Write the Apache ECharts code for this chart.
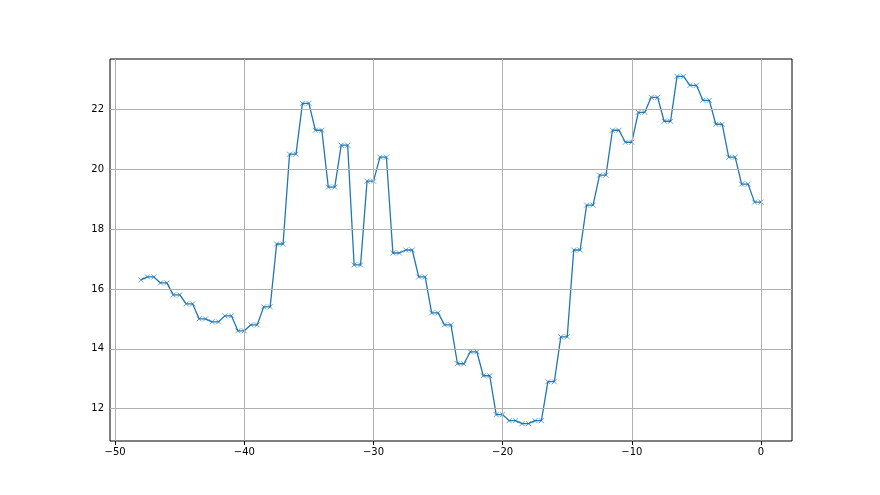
<!DOCTYPE html>
<html>
<head>
<meta charset="utf-8">
<script src="https://cdn.jsdelivr.net/npm/echarts@6/dist/echarts.min.js"></script>
<style>
  html, body { margin: 0; padding: 0; background: #fff; }
  #chart { width: 880px; height: 495px; }
</style>
</head>
<body>
<div id="chart"></div>
<script>
// one value per whole step; each is held for half a unit
const stepX = [-48, -47, -46, -45, -44, -43, -42, -41, -40, -39, -38, -37, -36, -35, -34, -33, -32,
  -31, -30, -29, -28, -27, -26, -25, -24, -23, -22, -21, -20, -19, -18, -17, -16,
  -15, -14, -13, -12, -11, -10, -9, -8, -7, -6, -5, -4, -3, -2, -1, 0]
const stepY = [16.3, 16.4, 16.2, 15.8, 15.5, 15.0, 14.9, 15.1, 14.6, 14.8, 15.4, 17.5, 20.5, 22.2, 21.3, 19.4, 20.8,
  16.8, 19.6, 20.4, 17.2, 17.3, 16.4, 15.2, 14.8, 13.5, 13.9, 13.1, 11.8, 11.6, 11.5, 11.6, 12.9,
  14.4, 17.3, 18.8, 19.8, 21.3, 20.9, 21.9, 22.4, 21.6, 23.1, 22.8, 22.3, 21.5, 20.4, 19.5, 18.9]
const xTicks = [-50, -40, -30, -20, -10, 0]
const yTicks = [12, 14, 16, 18, 20, 22]

// each step is drawn as two markers: at x - 0.5 and at x (the first one only at x)
const points = []
stepX.forEach((x, i) => {
  if (i > 0) points.push([x - 0.5, stepY[i]])
  points.push([x, stepY[i]])
})

const chart = echarts.init(document.getElementById('chart'), null, { renderer: 'canvas' })

const axisText = { color: '#000', fontSize: 10, fontFamily: 'DejaVu Sans' }

chart.setOption({
  animation: false,
  grid: {
    left: 110, right: 88, top: 59, bottom: 54,
    show: true, borderColor: '#000', borderWidth: 1, backgroundColor: 'transparent'
  },
  xAxis: {
    type: 'value',
    min: -50.4,
    max: 2.4,
    axisLine: { show: false },
    axisTick: { show: true, length: 4, lineStyle: { color: '#000' }, customValues: xTicks },
    axisLabel: { ...axisText, margin: 6, customValues: xTicks, formatter: v => String(v).replace('-', '\u2212') },
    splitLine: { show: false }
  },
  yAxis: {
    type: 'value',
    min: 10.92,
    max: 23.68,
    axisLine: { show: false },
    axisTick: { show: true, length: 4, lineStyle: { color: '#000' }, customValues: yTicks },
    axisLabel: { ...axisText, margin: 6, customValues: yTicks },
    splitLine: { show: false }
  },
  series: [
    {
      // grid lines at the tick values
      type: 'line',
      data: [],
      z: 1,
      markLine: {
        silent: true,
        symbol: 'none',
        label: { show: false },
        lineStyle: { color: '#b0b0b0', width: 1, type: 'solid' },
        data: [...xTicks.map(v => ({ xAxis: v })), ...yTicks.map(v => ({ yAxis: v }))]
      }
    },
    {
      type: 'line',
      data: points,
      z: 3,
      symbol: 'path://M0,0L10,10M10,0L0,10',
      symbolSize: 5,
      showAllSymbol: true,
      lineStyle: { color: '#1f77b4', width: 1.3 },
      itemStyle: { color: '#1f77b4', borderColor: '#1f77b4', borderWidth: 0.7 }
    }
  ]
})
</script>
</body>
</html>
